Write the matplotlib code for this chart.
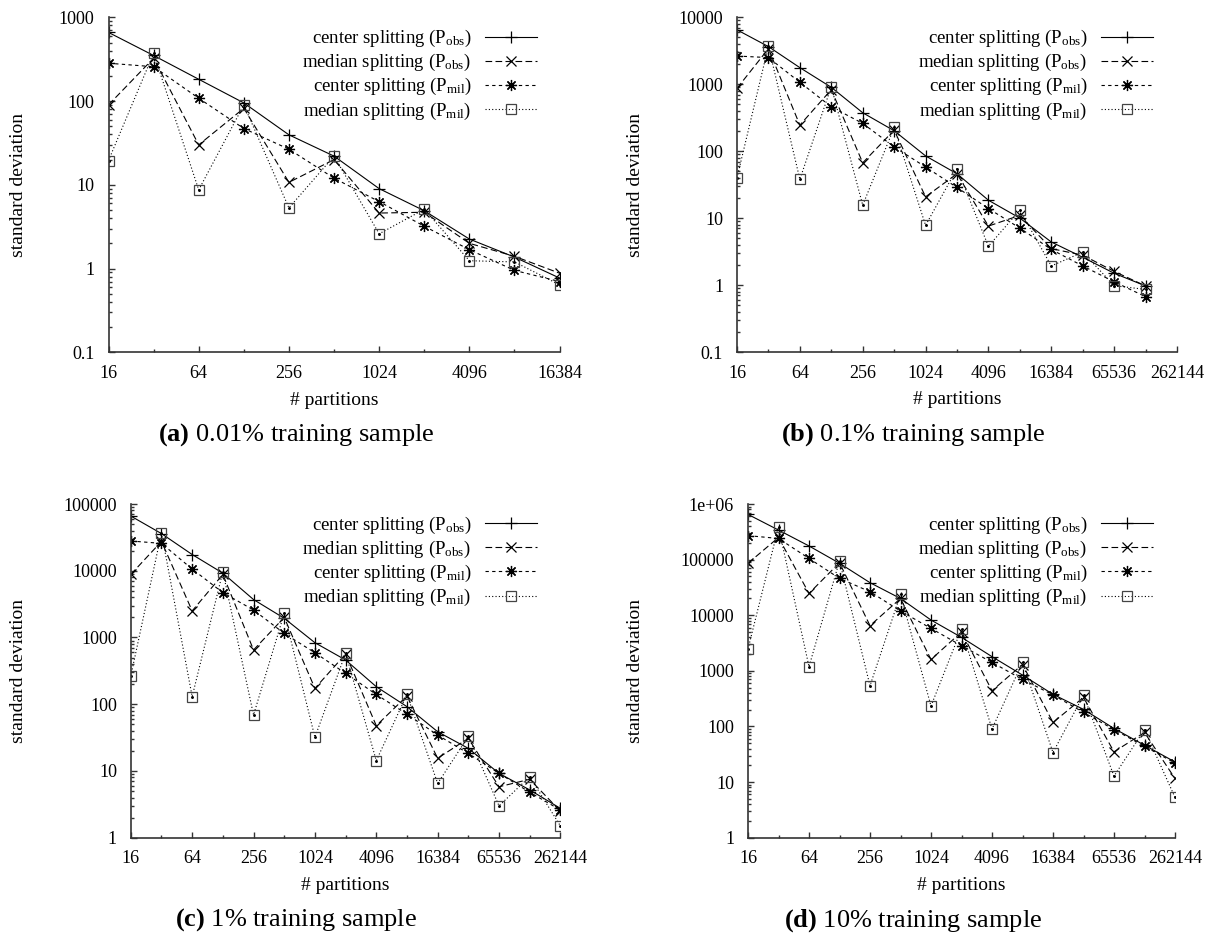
import matplotlib
matplotlib.use('Agg')
import matplotlib.pyplot as plt
from matplotlib.ticker import FixedLocator, FixedFormatter, NullFormatter

plt.rcParams['font.family'] = ['Liberation Serif', 'DejaVu Serif']
plt.rcParams['mathtext.fontset'] = 'custom'
plt.rcParams['mathtext.rm'] = 'Liberation Serif'
plt.rcParams['mathtext.bf'] = 'Liberation Serif:bold'
plt.rcParams['mathtext.it'] = 'Liberation Serif:italic'

# ---------------- data ----------------
partitions_a = [16, 32, 64, 128, 256, 512, 1024, 2048, 4096, 8192, 16384]
partitions_b = [16, 32, 64, 128, 256, 512, 1024, 2048, 4096, 8192, 16384, 32768, 65536, 131072]
partitions_cd = [16, 32, 64, 128, 256, 512, 1024, 2048, 4096, 8192, 16384, 32768, 65536, 131072, 262144]

a_center_obs = [660, 350, 182, 95, 39.5, 22, 9.0, 4.9, 2.25, 1.37, 0.77]
a_median_obs = [90, 325, 30, 82, 10.7, 20, 4.6, 4.7, 2.0, 1.4, 0.88]
a_center_mil = [283, 257, 108, 47, 26.6, 12, 6.3, 3.2, 1.68, 0.95, 0.70]
a_median_mil = [19.5, 372, 8.7, 90, 5.3, 22, 2.6, 5.1, 1.24, 1.2, 0.64]

b_center_obs = [6500, 3650, 1770, 900, 375, 202, 85, 46, 18.5, 10, 4.4, 2.6, 1.5, 0.97]
b_median_obs = [870, 3400, 245, 830, 67, 206, 20.8, 46, 7.6, 11, 3.5, 2.8, 1.6, 0.97]
b_center_mil = [2640, 2500, 1070, 460, 260, 116, 58, 28.7, 13.9, 7.1, 3.4, 1.93, 1.12, 0.67]
b_median_mil = [40, 3720, 38, 920, 15.6, 226, 7.8, 55, 3.8, 13.2, 1.93, 3.1, 0.98, 0.86]

c_center_obs = [66000, 36000, 17500, 9200, 3700, 1940, 835, 460, 183, 92, 38.7, 21.8, 9.2, 5.2, 2.75]
c_median_obs = [8800, 27500, 2500, 8800, 650, 2000, 173, 565, 47.7, 133, 15.5, 30.8, 5.8, 7.5, 2.5]
c_center_mil = [27900, 25700, 10600, 4700, 2580, 1150, 590, 290, 140, 71, 34.5, 18.3, 9.2, 4.8, 2.6]
c_median_mil = [265, 37000, 130, 9700, 69, 2300, 32, 580, 14.3, 140, 6.5, 33, 3.0, 8.2, 1.5]

d_center_obs = [650000, 340000, 176000, 86000, 38500, 20000, 8200, 4000, 1800, 840, 378, 203, 92, 46, 23]
d_median_obs = [86000, 250000, 24700, 88000, 6500, 20000, 1600, 5000, 440, 1300, 118, 333, 35, 78, 11.6]
d_center_mil = [270000, 240000, 105000, 46000, 26500, 11900, 5800, 2830, 1420, 700, 370, 179, 88, 44, 22]
d_median_mil = [2470, 390000, 1190, 95000, 540, 23700, 233, 5700, 90, 1420, 34, 367, 12.8, 88, 5.3]

series_labels = ['center splitting (P$_{\\mathrm{obs}}$)',
                 'median splitting (P$_{\\mathrm{obs}}$)',
                 'center splitting (P$_{\\mathrm{mil}}$)',
                 'median splitting (P$_{\\mathrm{mil}}$)']

xticks_a = [16, 64, 256, 1024, 4096, 16384]
xticklabels_a = ['16', '64', '256', '1024', '4096', '16384']
xminor_a = [32, 128, 512, 2048, 8192]
xticks_bcd = [16, 64, 256, 1024, 4096, 16384, 65536, 262144]
xticklabels_bcd = ['16', '64', '256', '1024', '4096', '16384', '65536', '262144']
xminor_bcd = [32, 128, 512, 2048, 8192, 32768, 131072]

yticks_a = [0.1, 1, 10, 100, 1000]
yticklabels_a = ['0.1', '1', '10', '100', '1000']
yticks_b = [0.1, 1, 10, 100, 1000, 10000]
yticklabels_b = ['0.1', '1', '10', '100', '1000', '10000']
yticks_c = [1, 10, 100, 1000, 10000, 100000]
yticklabels_c = ['1', '10', '100', '1000', '10000', '100000']
yticks_d = [1, 10, 100, 1000, 10000, 100000, 1000000]
yticklabels_d = ['1', '10', '100', '1000', '10000', '100000', '1e+06']

captions = [r'$\mathbf{(a)}$ 0.01% training sample',
            r'$\mathbf{(b)}$ 0.1% training sample',
            r'$\mathbf{(c)}$ 1% training sample',
            r'$\mathbf{(d)}$ 10% training sample']

# ---------------- layout ----------------
W, H = 1219, 938
fig = plt.figure(figsize=(W / 100, H / 100), dpi=100)

# pixel boxes: left, right, top, bottom
boxes = [(108.5, 559.6, 17.3, 352.3),
         (737.0, 1177.0, 17.3, 352.0),
         (130.8, 560.4, 504.0, 837.7),
         (748.0, 1175.0, 504.0, 837.7)]
ylabel_px = [19, 636, 19, 636]
caption_px = [(296, 435), (913, 435), (296, 920), (913, 921)]
legend_right_px = [537, 1153, 537, 1153]

panels = [
    (partitions_a, [a_center_obs, a_median_obs, a_center_mil, a_median_mil],
     xticks_a, xticklabels_a, xminor_a, yticks_a, yticklabels_a),
    (partitions_b, [b_center_obs, b_median_obs, b_center_mil, b_median_mil],
     xticks_bcd, xticklabels_bcd, xminor_bcd, yticks_b, yticklabels_b),
    (partitions_cd, [c_center_obs, c_median_obs, c_center_mil, c_median_mil],
     xticks_bcd, xticklabels_bcd, xminor_bcd, yticks_c, yticklabels_c),
    (partitions_cd, [d_center_obs, d_median_obs, d_center_mil, d_median_mil],
     xticks_bcd, xticklabels_bcd, xminor_bcd, yticks_d, yticklabels_d),
]

styles = [dict(ls='-', marker='+', ms=8, mew=0.9),
          dict(ls=(0, (6, 3)), marker='x', ms=6.5, mew=0.9),
          dict(ls=(0, (3, 3)), marker=(8, 2, 0), ms=8, mew=0.9),
          dict(ls=(0, (1, 2)), marker='s', ms=6.8, mew=0.9, mfc='none', mec='#444444')]

FS = 13
LFS = 13.5
for i, (x, series, xt, xtl, xmn, yt, ytl) in enumerate(panels):
    l, r, t, b = boxes[i]
    ax = fig.add_axes([l / W, 1 - b / H, (r - l) / W, (b - t) / H])
    ax.set_xscale('log', base=2)
    ax.set_yscale('log')
    for s, lab, st in zip(series, series_labels, styles):
        ax.plot(x, s, color='black', lw=0.8, label=lab, **st)
    ax.plot(x, series[3], ls='none', marker='o', ms=1.1, color='black')
    ax.set_xlim(xt[0], xt[-1])
    ax.set_ylim(yt[0], yt[-1])

    ax.xaxis.set_major_locator(FixedLocator(xt))
    ax.xaxis.set_major_formatter(FixedFormatter(xtl))
    ax.xaxis.set_minor_locator(FixedLocator(xmn))
    ax.xaxis.set_minor_formatter(NullFormatter())
    ax.yaxis.set_major_locator(FixedLocator(yt))
    ax.yaxis.set_major_formatter(FixedFormatter(ytl))
    minors = [m * 10 ** k for k in range(-1, 6) for m in range(2, 10)]
    ax.yaxis.set_minor_locator(FixedLocator(minors))
    ax.yaxis.set_minor_formatter(NullFormatter())

    for sp in ('top', 'right'):
        ax.spines[sp].set_visible(False)
    for sp in ('left', 'bottom'):
        ax.spines[sp].set_linewidth(1.2)
        ax.spines[sp].set_color('#333333')
    ax.tick_params(which='both', direction='in', top=False, right=False,
                   color='#333333', width=1.0)
    ax.tick_params(which='major', length=4.3, labelsize=FS)
    ax.tick_params(which='minor', length=2.2)
    ax.tick_params(axis='x', which='major', pad=9)
    ax.tick_params(axis='y', which='major', pad=10)

    ax.set_ylabel('standard deviation', fontsize=14)
    ax.yaxis.set_label_coords((ylabel_px[i] - l) / (r - l), 0.5)
    ax.yaxis.label.set_va('center')
    ax.set_xlabel('# partitions', fontsize=14)
    ax.xaxis.set_label_coords(0.5, -(400 - 352.3) / 335.0)
    ax.xaxis.label.set_va('center')

    cx, cy = caption_px[i]
    fig.text(cx / W, 1 - cy / H, captions[i], ha='center', va='center',
             fontsize=19)

    leg_right = (legend_right_px[i] - l) / (r - l)
    ax.legend(loc='upper right', bbox_to_anchor=(leg_right, 0.968),
              frameon=False, markerfirst=False, fontsize=LFS,
              handlelength=2.8, handletextpad=0.7, labelspacing=0.16,
              borderpad=0, borderaxespad=0, numpoints=1)

fig.savefig('out.png', dpi=100)
